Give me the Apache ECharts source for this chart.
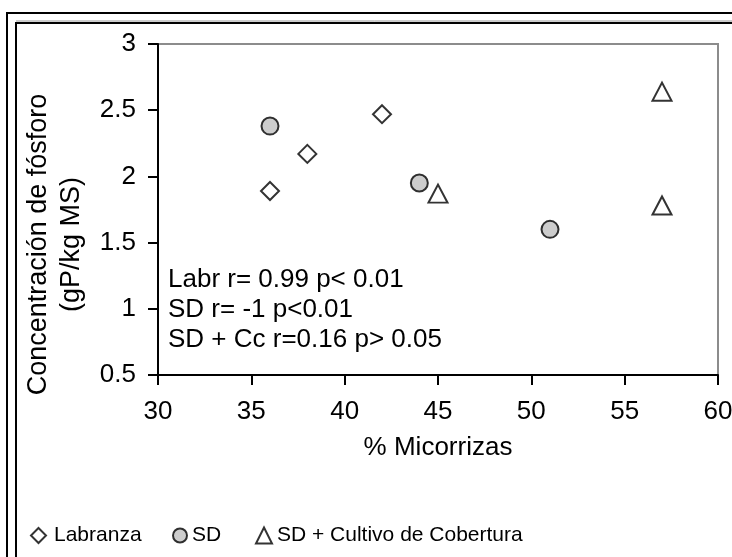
<!DOCTYPE html>
<html>
<head>
<meta charset="utf-8">
<script src="https://cdn.jsdelivr.net/npm/echarts@6/dist/echarts.min.js"></script>
<style>
  html, body { margin: 0; padding: 0; background: #fff; }
  #chart { width: 732px; height: 557px; }
</style>
</head>
<body>
<div id="chart"></div>
<script>
// datos: % micorrizas vs concentración de fósforo
var labranza = [[36, 1.89], [38, 2.17], [42, 2.47]];
var sd = [[36, 2.38], [44, 1.95], [51, 1.60]];
var sdCc = [[45, 1.87], [57, 2.64], [57, 1.78]];
var seriesNames = ['Labranza', 'SD', 'SD + Cultivo de Cobertura'];
var notas = ['Labr r= 0.99 p< 0.01', 'SD r= -1 p<0.01', 'SD + Cc r=0.16 p> 0.05'];

var font = 'Liberation Sans, Arial, sans-serif';
var chart = echarts.init(document.getElementById('chart'));

function leyenda(name, left, size, pad) {
  return {
    data: [name], left: left, top: 525, padding: 0, itemWidth: size, itemHeight: size, itemGap: 0,
    textStyle: { fontFamily: font, fontSize: 21, color: '#000', padding: [0, 0, 0, pad] }
  };
}

var option = {
  backgroundColor: '#fff',
  animation: false,
  grid: {
    left: 158, right: 14, top: 44, bottom: 182,
    outerBoundsMode: 'none', containLabel: false,
    show: true, borderColor: '#8c8c8c', borderWidth: 2
  },
  xAxis: {
    type: 'value', min: 30, max: 60, interval: 5,
    name: '% Micorrizas', nameLocation: 'middle', nameGap: 60,
    nameTextStyle: { fontFamily: font, fontSize: 26, color: '#000' },
    axisLine: { lineStyle: { color: '#000', width: 2 } },
    axisTick: { inside: false, length: 10, lineStyle: { color: '#000', width: 2 } },
    axisLabel: { fontFamily: font, fontSize: 26, color: '#000', margin: 24 },
    splitLine: { show: false }
  },
  yAxis: {
    type: 'value', min: 0.5, max: 3, interval: 0.5,
    name: 'Concentración de fósforo\n(gP/kg MS)', nameLocation: 'middle', nameGap: 70,
    nameTextStyle: { fontFamily: font, fontSize: 27, color: '#000', lineHeight: 33, padding: [0, 70, 0, 0] },
    axisLine: { lineStyle: { color: '#000', width: 2 } },
    axisTick: { inside: false, length: 10, lineStyle: { color: '#000', width: 2 } },
    axisLabel: { fontFamily: font, fontSize: 26, color: '#000', margin: 22 },
    splitLine: { show: false }
  },
  legend: [
    leyenda(seriesNames[0], 30, 15, 3),
    leyenda(seriesNames[1], 172, 14, 0),
    leyenda(seriesNames[2], 255, 16, 0)
  ],
  series: [
    {
      name: seriesNames[0], type: 'scatter', data: labranza,
      symbol: 'diamond', symbolSize: 18,
      itemStyle: { color: '#fff', borderColor: '#000', borderWidth: 2 }
    },
    {
      name: seriesNames[1], type: 'scatter', data: sd,
      symbol: 'circle', symbolSize: 17,
      itemStyle: { color: '#c0c0c0', borderColor: '#000', borderWidth: 2 }
    },
    {
      name: seriesNames[2], type: 'scatter', data: sdCc,
      symbol: 'triangle', symbolSize: [19, 18],
      itemStyle: { color: '#fff', borderColor: '#000', borderWidth: 2 }
    }
  ],
  graphic: [
    // marco doble exterior
    { type: 'rect', shape: { x: 7, y: 13, width: 760, height: 600 },
      style: { fill: 'none', stroke: '#000', lineWidth: 2 }, silent: true },
    { type: 'line', shape: { x1: 16, y1: 21, x2: 760, y2: 21 },
      style: { stroke: '#999', lineWidth: 1 }, silent: true },
    { type: 'rect', shape: { x: 16, y: 23, width: 760, height: 600 },
      style: { fill: 'none', stroke: '#000', lineWidth: 2 }, silent: true },
    { type: 'text', left: 168, top: 265, silent: true,
      style: { text: notas.join('\n'), fontFamily: font, fontSize: 26, lineHeight: 30, fill: '#000' } }
  ]
};

chart.setOption(option);
</script>
</body>
</html>
